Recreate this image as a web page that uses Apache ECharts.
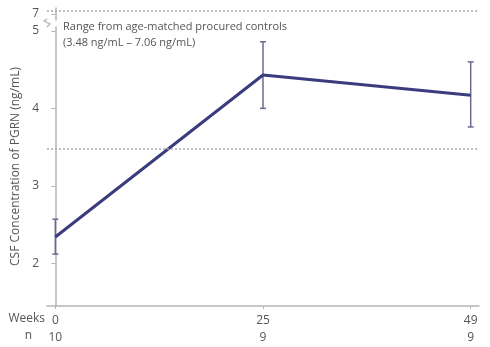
<!DOCTYPE html>
<html><head><meta charset="utf-8">
<script src="https://cdn.jsdelivr.net/npm/echarts@6/dist/echarts.min.js"></script>
<style>html,body{margin:0;padding:0;background:#fff}#c{width:490px;height:347px}</style>
</head><body><div id="c"></div>
<script>
const weeks = ['0', '25', '49'];
const nCounts = ['10', '9', '9'];
const means = [2.34, 4.43, 4.17];
const upper = [2.57, 4.86, 4.60];
const lower = [2.12, 4.00, 3.76];
const rangeLow = 3.48;
const rangeHigh = 7.06;
const yTicks = [2, 3, 4, 5];
const yAxisTitle = 'CSF Concentration of PGRN (ng/mL)';
const rangeText = ['Range from age-matched procured controls', '(3.48 ng/mL \u2013 7.06 ng/mL)'];

const font = 'Open Sans';
const txt = '#555';
const axisCol = '#b5b5b5';
const chart = echarts.init(document.getElementById('c'));
const idx = weeks.map((w, i) => i);

chart.setOption({
  animation: false,
  textStyle: {fontFamily: font},
  grid: [
    {left: 47, right: 11, top: 27, bottom: 41},
    {left: 47, right: 11, top: 8, height: 12}
  ],
  xAxis: [
    {type: 'value', gridIndex: 0, min: -0.04, max: 2.04,
     axisLine: {show: true, lineStyle: {color: axisCol, width: 1.5}},
     axisTick: {show: true, customValues: idx, length: 3, lineStyle: {color: axisCol}},
     splitLine: {show: false},
     axisLabel: {customValues: idx, color: txt, fontSize: 12, lineHeight: 17, margin: 6,
       formatter: v => weeks[Math.round(v)] + '\n' + nCounts[Math.round(v)]}},
    {type: 'value', gridIndex: 1, min: -0.04, max: 2.04, show: false}
  ],
  yAxis: [
    {type: 'value', gridIndex: 0, min: 1.45, max: 5.05,
     axisLine: {show: true, lineStyle: {color: axisCol, width: 1.5}},
     axisTick: {show: true, customValues: yTicks, length: 4, lineStyle: {color: axisCol}},
     splitLine: {show: false},
     axisLabel: {customValues: yTicks, color: txt, fontSize: 12, margin: 8},
     name: yAxisTitle, nameLocation: 'middle', nameGap: 24,
     nameTextStyle: {color: txt, fontSize: 12}},
    {type: 'value', gridIndex: 1, min: 6.9, max: 7.1,
     axisLine: {show: true, lineStyle: {color: axisCol, width: 1.5}},
     axisTick: {show: true, customValues: [7], length: 4, lineStyle: {color: axisCol}},
     splitLine: {show: false},
     axisLabel: {customValues: [7], color: txt, fontSize: 12, margin: 8}}
  ],
  graphic: [
    {type: 'polyline', shape: {points: [[47, 19], [44, 21], [50, 24], [47, 27]]},
     style: {stroke: axisCol, lineWidth: 1.3, fill: null}},
    {type: 'text', left: 63, top: 21, style: {text: rangeText[0], fill: txt, font: '11px "Open Sans"'}},
    {type: 'text', left: 63, top: 37, style: {text: rangeText[1], fill: txt, font: '11px "Open Sans"'}},
    {type: 'text', right: 490 - 45, top: 313, style: {text: 'Weeks', fill: txt, font: '12px "Open Sans"', align: 'right'}},
    {type: 'text', right: 490 - 32, top: 330, style: {text: 'n', fill: txt, font: '12px "Open Sans"', align: 'right'}}
  ],
  series: [
    {type: 'line', xAxisIndex: 0, yAxisIndex: 0,
     data: means.map((m, i) => [i, m]),
     symbol: 'none', lineStyle: {color: '#3a3c7e', width: 3},
     markLine: {silent: true, symbol: 'none', label: {show: false},
       lineStyle: {color: '#aaa', type: [2, 2], width: 1.5},
       data: [[{coord: [-0.04, rangeLow]}, {coord: [2.04, rangeLow]}]]}},
    {type: 'line', xAxisIndex: 1, yAxisIndex: 1, data: [], symbol: 'none',
     markLine: {silent: true, symbol: 'none', label: {show: false},
       lineStyle: {color: '#aaa', type: [2, 2], width: 1.5},
       data: [[{coord: [-0.04, rangeHigh]}, {coord: [2.04, rangeHigh]}]]}},
    {type: 'custom', xAxisIndex: 0, yAxisIndex: 0, z: 3,
     data: idx.map(i => [i, lower[i], upper[i]]),
     renderItem: (params, api) => {
       const lo = api.coord([api.value(0), api.value(1)]);
       const hi = api.coord([api.value(0), api.value(2)]);
       const w = 3;
       const st = {stroke: '#6c6a94', lineWidth: 1.5};
       return {type: 'group', children: [
         {type: 'line', shape: {x1: lo[0], y1: lo[1], x2: hi[0], y2: hi[1]}, style: st},
         {type: 'line', shape: {x1: lo[0] - w, y1: lo[1], x2: lo[0] + w, y2: lo[1]}, style: st},
         {type: 'line', shape: {x1: hi[0] - w, y1: hi[1], x2: hi[0] + w, y2: hi[1]}, style: st}
       ]};
     }}
  ]
});
</script></body></html>
